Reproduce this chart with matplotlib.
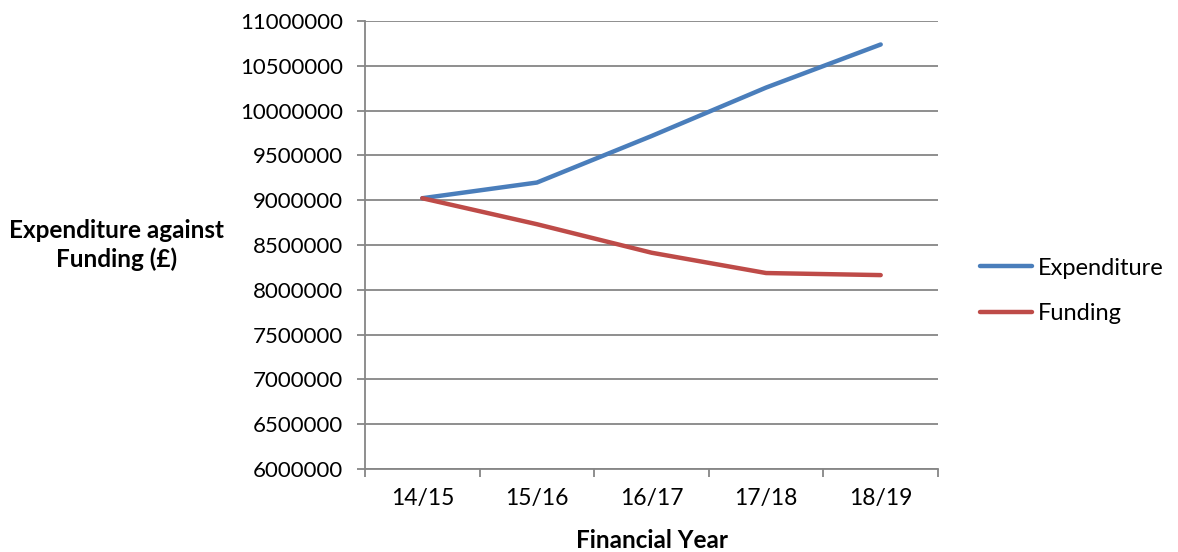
import matplotlib
matplotlib.use("Agg")
import matplotlib.pyplot as plt
from matplotlib.ticker import FixedLocator, FuncFormatter

years = ["14/15", "15/16", "16/17", "17/18", "18/19"]
expenditure = [9022000, 9197000, 9716000, 10257000, 10738000]
funding = [9022000, 8732000, 8414000, 8187000, 8164000]
yticks = [6000000, 6500000, 7000000, 7500000, 8000000, 8500000, 9000000,
          9500000, 10000000, 10500000, 11000000]

plt.rcParams['font.family'] = ['Lato', 'DejaVu Sans']

fig = plt.figure(figsize=(11.78, 5.52), dpi=100)
ax = fig.add_axes([365/1178, 1 - 469/552, (938-365)/1178, (469-21)/552])

x = list(range(len(years)))
ax.plot(x, expenditure, color="#4A7EBB", lw=3.2, solid_capstyle="round", label="Expenditure", zorder=3)
ax.plot(x, funding, color="#BE4B48", lw=3.2, solid_capstyle="round", label="Funding", zorder=3)

ax.set_xlim(-0.5, len(years) - 0.5)
ax.set_ylim(yticks[0], yticks[-1])
ax.set_yticks(yticks)
ax.yaxis.set_major_formatter(FuncFormatter(lambda v, p: f"{int(v)}"))
ax.set_xticks(x)
ax.set_xticklabels(years)
ax.xaxis.set_minor_locator(FixedLocator([i - 0.5 for i in range(len(years) + 1)]))
ax.tick_params(axis="x", which="major", length=0, pad=14, labelsize=16.5)
ax.tick_params(axis="x", which="minor", length=6, width=1.3, color="#868686")
ax.tick_params(axis="y", length=6, width=1.3, color="#868686", labelsize=16, pad=10)

ax.grid(axis="y", color="#868686", lw=1.3)
for s in ["top", "right"]:
    ax.spines[s].set_visible(False)
ax.spines["left"].set_color("#868686")
ax.spines["left"].set_linewidth(1.3)
ax.spines["bottom"].set_color("#868686")
ax.spines["bottom"].set_linewidth(1.3)

fig.text(117/1178, 1 - 245/552, "Expenditure against\nFunding (£)", ha="center", va="center",
         fontsize=17.5, fontweight="bold", linespacing=1.25)
fig.text(652/1178, 1 - 541/552, "Financial Year", ha="center", va="center",
         fontsize=17.5, fontweight="bold")

leg = fig.legend(loc="center left", bbox_to_anchor=(959/1178, 1 - 291/552), frameon=False,
                 fontsize=17, handlelength=2.2, handletextpad=0.25, labelspacing=1.05)

fig.savefig("out.png", dpi=100)
